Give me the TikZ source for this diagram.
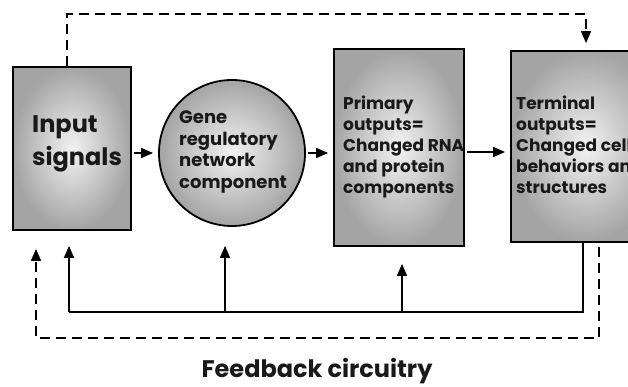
\documentclass[tikz,border=0pt]{standalone}
\usepackage{fontspec}
\setmainfont{Poppins}
\usetikzlibrary{arrows.meta}
\definecolor{shOut}{HTML}{A4A4A4}
\definecolor{shIn}{HTML}{F2F2F2}
\begin{document}
\begin{tikzpicture}[x=1pt,y=-1pt,
  shbox/.style={draw=black,line width=1.8pt,inner sep=0pt,
     inner color=shIn,outer color=shOut},
  lbl/.style={inner sep=0pt,align=left,anchor=north west,text=black!90},
  arr/.style={line width=1.6pt,-{Triangle[length=12pt,width=10pt]}},
  dsharr/.style={line width=1.6pt,dash pattern=on 10pt off 6pt,-{Triangle[length=12pt,width=10pt]}}]
\useasboundingbox (0,0) rectangle (628,387);
\clip (0,0) rectangle (628,387);
% shapes
\node[shbox,rectangle,minimum width=118pt,minimum height=163pt] (in) at (72,148.5) {};
\node[shbox,circle,minimum size=146pt] (gene) at (232,153) {};
\node[shbox,rectangle,minimum width=130pt,minimum height=197pt] (prim) at (399,147.5) {};
\node[shbox,rectangle,minimum width=150pt,minimum height=191pt] (term) at (586,146.5) {};
% texts
\node[lbl,font=\bfseries\fontsize{24}{33}\selectfont] (inT) at (32,115) {Input\\signals};
\node[lbl,font=\bfseries\fontsize{18}{21.5}\selectfont] (geneT) at (179,111) {Gene\\regulatory\\network\\component};
\node[lbl,font=\bfseries\fontsize{17}{21}\selectfont] (primT) at (343,96) {Primary\\outputs=\\Changed RNA\\and protein\\components};
\node[lbl,font=\bfseries\fontsize{17}{21}\selectfont] (termT) at (516,96) {Terminal\\outputs=\\Changed cell\\behaviors and\\structures};
\node[inner sep=0pt,anchor=base,font=\bfseries\fontsize{24}{26}\selectfont,text=black!90] (fb) at (317,377) {Feedback circuitry};
% forward arrows
\draw[arr] ([xshift=2pt]in.east |- gene.west) -- ([xshift=-5pt]gene.west);
\draw[arr] ([xshift=2pt]gene.east) -- ([xshift=-5pt]prim.west |- gene.east);
\draw[arr] ([xshift=2pt]prim.east |- 0,152) -- ([xshift=-5pt]term.west |- 0,152);
% coordinates for feedback routes
\coordinate (topL) at (67,14);
\coordinate (topR) at (586,14);
\coordinate (solR) at (583,312);
\coordinate (solL) at (69,312);
\coordinate (dshR) at (599,338);
\coordinate (dshL) at (36,338);
% top dashed feed-forward
\draw[dsharr] (in.north -| topL) -- (topL) -- (topR) -- ([yshift=7pt]term.north -| topR);
% bottom solid feedback
\draw[line width=1.6pt] (term.south -| solR) -- (solR) -- (solL);
\draw[arr] (solL) -- ([yshift=-15pt]in.south -| solL);
\draw[arr] ([xshift=-7pt]gene.south |- solL) -- ([xshift=-7pt,yshift=-19pt]gene.south);
\draw[arr] ([xshift=3pt]prim.south |- solL) -- ([xshift=3pt,yshift=-17pt]prim.south);
% bottom dashed feedback
\draw[dsharr] ([yshift=-4pt]term.south -| dshR) -- (dshR) -- (dshL) -- ([yshift=-18pt]in.south -| dshL);
\end{tikzpicture}
\end{document}
